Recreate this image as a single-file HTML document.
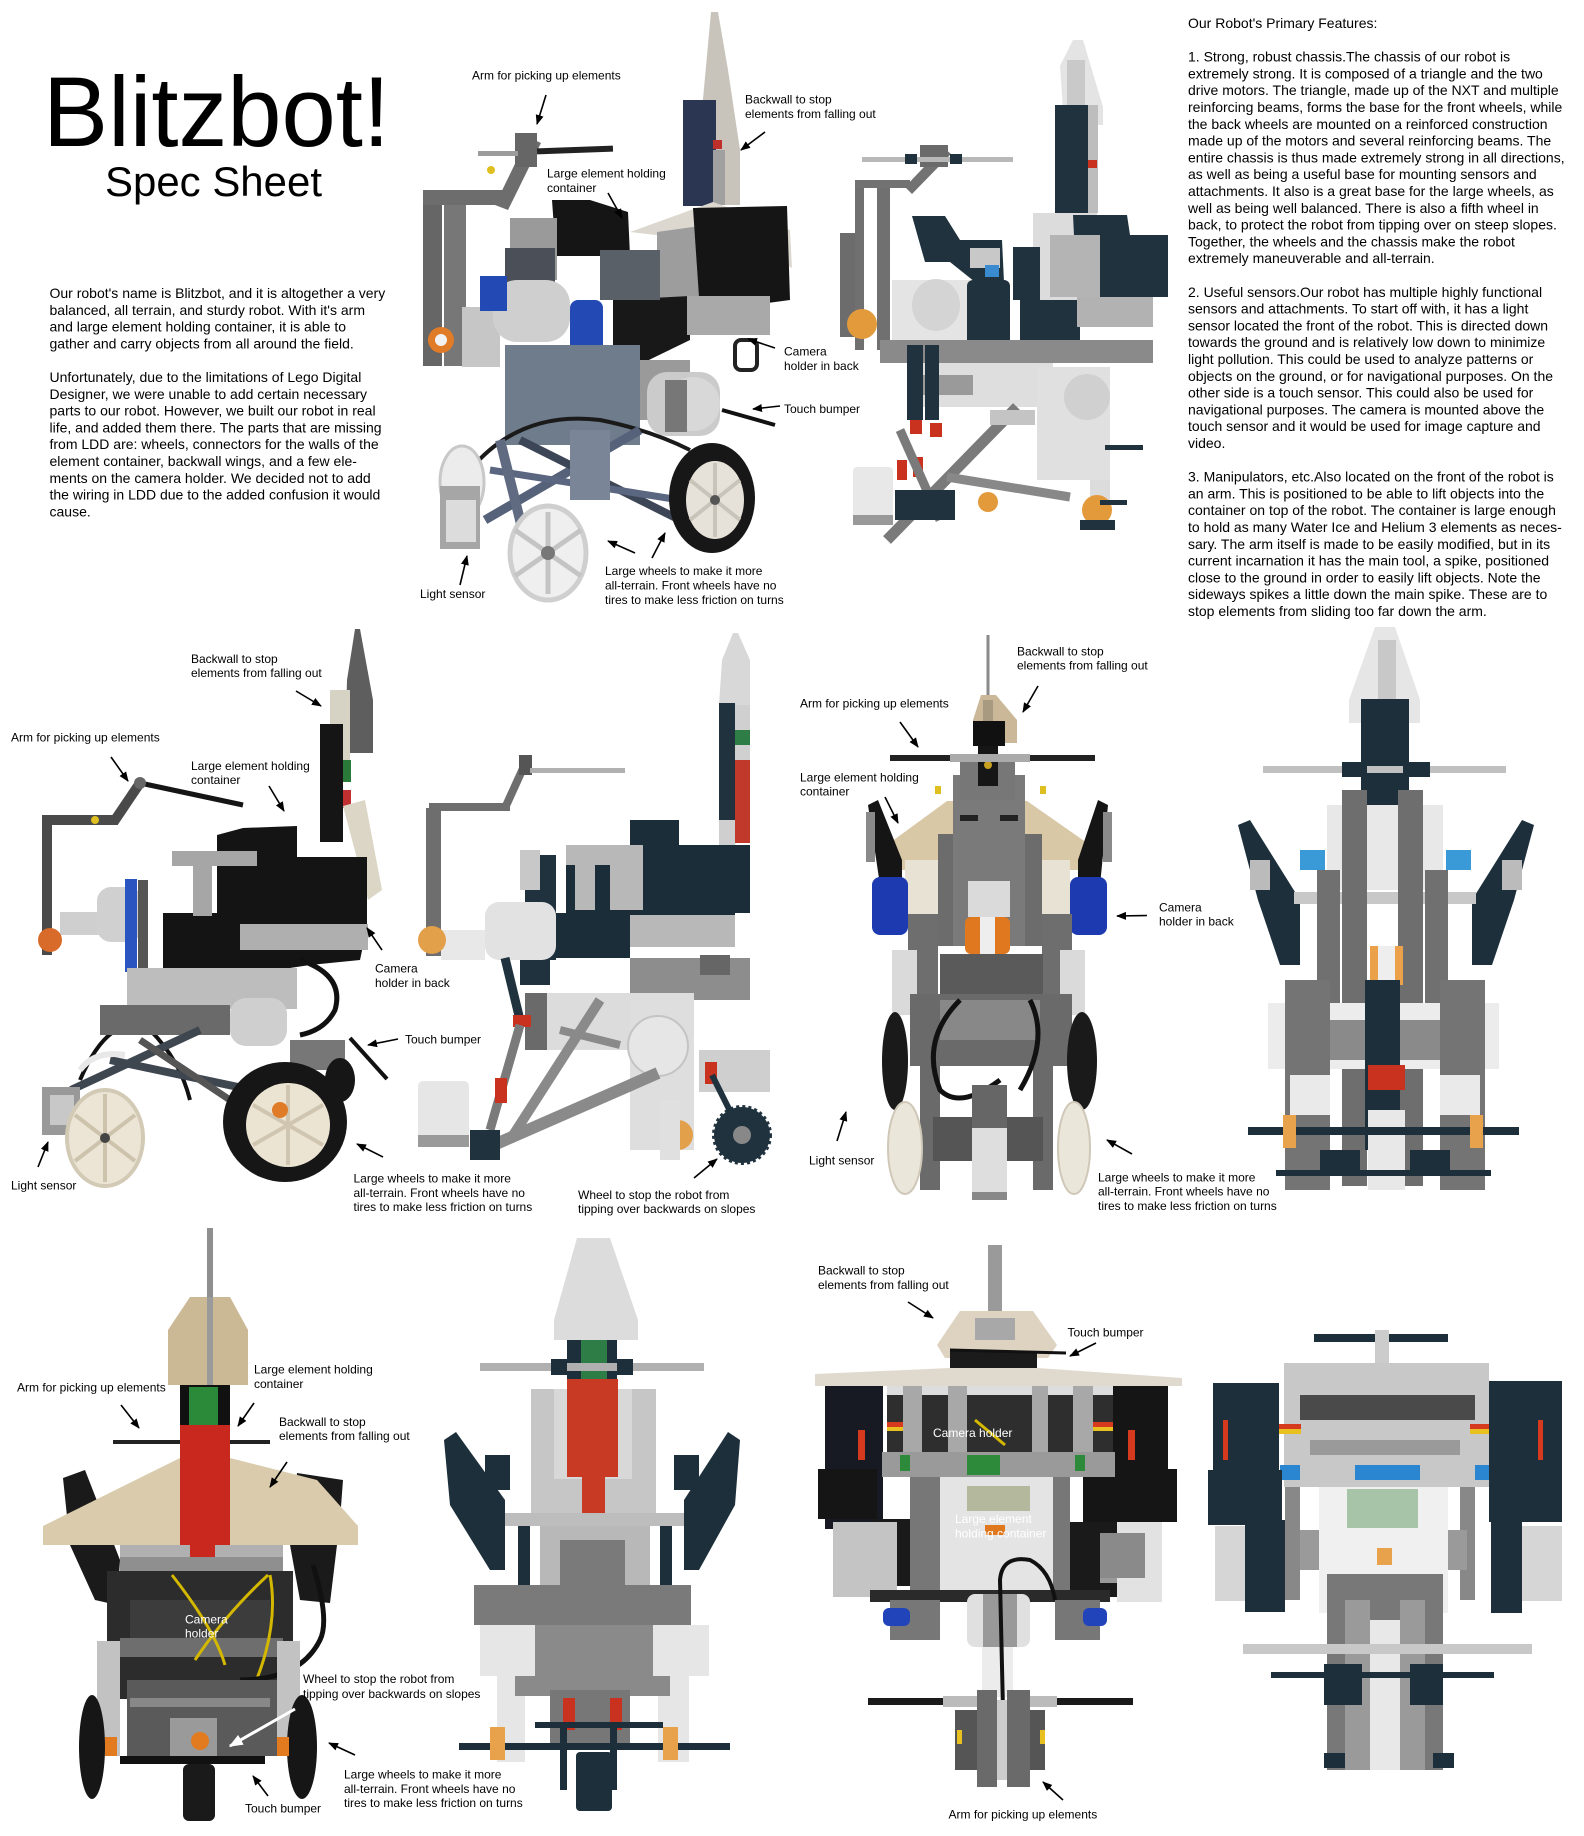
<!DOCTYPE html>
<html><head><meta charset="utf-8"><style>
html,body{margin:0;padding:0;background:#fff;}
svg{display:block;}
text{font-family:"Liberation Sans",Arial,sans-serif;fill:#000;}
.l{font-size:12px;}
.p{font-size:14px;}
.w{fill:#fff;}
.ar{stroke:#000;stroke-width:1.6;fill:none;marker-end:url(#ah);}
</style></head><body>
<svg width="1584" height="1836" viewBox="0 0 1584 1836" xmlns="http://www.w3.org/2000/svg">
<defs>
<marker id="ah" viewBox="0 0 10 10" refX="9" refY="5" markerWidth="10" markerHeight="10" orient="auto" markerUnits="userSpaceOnUse"><path d="M0,1 L10,5 L0,9 z" fill="#000"/></marker>
<marker id="ahw" viewBox="0 0 10 10" refX="9" refY="5" markerWidth="14" markerHeight="14" orient="auto" markerUnits="userSpaceOnUse"><path d="M0,1 L10,5 L0,9 z" fill="#fff"/></marker>
</defs>
<rect width="1584" height="1836" fill="#fff"/>

<!-- ===== Title ===== -->
<text x="43" y="146" font-size="99" textLength="347" lengthAdjust="spacingAndGlyphs">Blitzbot!</text>
<text x="105" y="196" font-size="42" textLength="217" lengthAdjust="spacingAndGlyphs">Spec Sheet</text>

<!-- ===== Left paragraph ===== -->
<g>
<text class="p" x="49.5" y="298">Our robot's name is Blitzbot, and it is altogether a very</text>
<text class="p" x="49.5" y="314.8">balanced, all terrain, and sturdy robot. With it's arm</text>
<text class="p" x="49.5" y="331.6">and large element holding container, it is able to</text>
<text class="p" x="49.5" y="348.4">gather and carry objects from all around the field.</text>
<text class="p" x="49.5" y="382">Unfortunately, due to the limitations of Lego Digital</text>
<text class="p" x="49.5" y="398.8">Designer, we were unable to add certain necessary</text>
<text class="p" x="49.5" y="415.6">parts to our robot. However, we built our robot in real</text>
<text class="p" x="49.5" y="432.4">life, and added them there. The parts that are missing</text>
<text class="p" x="49.5" y="449.2">from LDD are: wheels, connectors for the walls of the</text>
<text class="p" x="49.5" y="466">element container, backwall wings, and a few ele-</text>
<text class="p" x="49.5" y="482.8">ments on the camera holder. We decided not to add</text>
<text class="p" x="49.5" y="499.6">the wiring in LDD due to the added confusion it would</text>
<text class="p" x="49.5" y="516.4">cause.</text>
</g>

<!-- ===== Right column ===== -->
<g>
<text class="p" x="1188" y="28">Our Robot's Primary Features:</text>
<text class="p" x="1188" y="61.6">1. Strong, robust chassis.The chassis of our robot is</text>
<text class="p" x="1188" y="78.4">extremely strong. It is composed of a triangle and the two</text>
<text class="p" x="1188" y="95.2">drive motors. The triangle, made up of the NXT and multiple</text>
<text class="p" x="1188" y="112">reinforcing beams, forms the base for the front wheels, while</text>
<text class="p" x="1188" y="128.8">the back wheels are mounted on a reinforced construction</text>
<text class="p" x="1188" y="145.6">made up of the motors and several reinforcing beams. The</text>
<text class="p" x="1188" y="162.4">entire chassis is thus made extremely strong in all directions,</text>
<text class="p" x="1188" y="179.2">as well as being a useful base for mounting sensors and</text>
<text class="p" x="1188" y="196">attachments. It also is a great base for the large wheels, as</text>
<text class="p" x="1188" y="212.8">well as being well balanced. There is also a fifth wheel in</text>
<text class="p" x="1188" y="229.6">back, to protect the robot from tipping over on steep slopes.</text>
<text class="p" x="1188" y="246.4">Together, the wheels and the chassis make the robot</text>
<text class="p" x="1188" y="263.2">extremely maneuverable and all-terrain.</text>
<text class="p" x="1188" y="296.8">2. Useful sensors.Our robot has multiple highly functional</text>
<text class="p" x="1188" y="313.6">sensors and attachments. To start off with, it has a light</text>
<text class="p" x="1188" y="330.4">sensor located the front of the robot. This is directed down</text>
<text class="p" x="1188" y="347.2">towards the ground and is relatively low down to minimize</text>
<text class="p" x="1188" y="364">light pollution. This could be used to analyze patterns or</text>
<text class="p" x="1188" y="380.8">objects on the ground, or for navigational purposes. On the</text>
<text class="p" x="1188" y="397.6">other side is a touch sensor. This could also be used for</text>
<text class="p" x="1188" y="414.4">navigational purposes. The camera is mounted above the</text>
<text class="p" x="1188" y="431.2">touch sensor and it would be used for image capture and</text>
<text class="p" x="1188" y="448">video.</text>
<text class="p" x="1188" y="481.6">3. Manipulators, etc.Also located on the front of the robot is</text>
<text class="p" x="1188" y="498.4">an arm. This is positioned to be able to lift objects into the</text>
<text class="p" x="1188" y="515.2">container on top of the robot. The container is large enough</text>
<text class="p" x="1188" y="532">to hold as many Water Ice and Helium 3 elements as neces-</text>
<text class="p" x="1188" y="548.8">sary. The arm itself is made to be easily modified, but in its</text>
<text class="p" x="1188" y="565.6">current incarnation it has the main tool, a spike, positioned</text>
<text class="p" x="1188" y="582.4">close to the ground in order to easily lift objects. Note the</text>
<text class="p" x="1188" y="599.2">sideways spikes a little down the main spike. These are to</text>
<text class="p" x="1188" y="616">stop elements from sliding too far down the arm.</text>
</g>

<!-- ===== Robot A (photo, top) ===== -->
<g>
 <polygon points="711,12 718,12 728,70 740,150 740,205 706,205 702,110" fill="#c8c4bb"/>
 <rect x="683" y="100" width="33" height="106" fill="#2b3752"/>
 <rect x="713" y="150" width="12" height="55" fill="#a0a0a0"/>
 <rect x="713" y="140" width="9" height="9" fill="#c0302a"/>
 <polygon points="630,232 713,202 790,230 792,268 760,252 700,240" fill="#dcd8cf"/>
 <rect x="423" y="195" width="19" height="171" fill="#666"/>
 <rect x="444" y="200" width="22" height="166" fill="#777"/>
 <rect x="423" y="190" width="82" height="15" fill="#6d6d6d"/>
 <polygon points="495,205 528,137 541,143 508,210" fill="#6d6d6d"/>
 <rect x="515" y="133" width="22" height="34" fill="#666"/>
 <rect x="478" y="151" width="40" height="5" fill="#9c9c9c"/>
 <rect x="537" y="147" width="76" height="6" fill="#222" transform="rotate(-2 575 150)"/>
 <circle cx="491" cy="170" r="4" fill="#e0c020"/>
 <polygon points="552,200 590,200 628,212 630,256 556,256" fill="#151515"/>
 <rect x="510" y="218" width="47" height="62" fill="#9a9a9a"/>
 <rect x="505" y="248" width="50" height="52" fill="#4a4f58"/>
 <polygon points="657,232 700,226 702,300 657,300" fill="#9d9d9d"/>
 <polygon points="693,208 787,206 790,300 700,312" fill="#151515"/>
 <polygon points="613,300 690,296 690,340 620,374 613,374" fill="#181818"/>
 <rect x="687" y="296" width="83" height="39" fill="#a9a9a9"/>
 <rect x="600" y="250" width="60" height="50" fill="#5a6068"/>
 <rect x="462" y="307" width="38" height="60" fill="#c6c6c6"/>
 <rect x="493" y="280" width="77" height="62" rx="24" fill="#cfcfcf"/>
 <rect x="480" y="276" width="27" height="35" fill="#2349b4"/>
 <rect x="570" y="300" width="33" height="62" rx="8" fill="#2349b4"/>
 <circle cx="441" cy="340" r="13" fill="#e07b28"/>
 <circle cx="441" cy="340" r="6" fill="#f2f2f2"/>
 <rect x="505" y="345" width="135" height="100" fill="#6f7c8c"/>
 <rect x="640" y="360" width="50" height="60" fill="#9a9a9a"/>
 <rect x="647" y="372" width="73" height="64" rx="20" fill="#cbcbcb"/>
 <circle cx="693" cy="404" r="27" fill="#d8d8d8"/>
 <rect x="665" y="380" width="22" height="52" fill="#777"/>
 <line x1="722" y1="410" x2="775" y2="425" stroke="#111" stroke-width="4"/>
 <rect x="735" y="340" width="22" height="30" rx="6" fill="none" stroke="#222" stroke-width="4"/>
 <path d="M470,470 Q520,410 600,420 Q650,430 690,450" stroke="#1a1a1a" stroke-width="4" fill="none"/>
 <line x1="485" y1="520" x2="640" y2="430" stroke="#56627a" stroke-width="9"/>
 <line x1="520" y1="440" x2="700" y2="530" stroke="#3d4656" stroke-width="8"/>
 <line x1="490" y1="470" x2="680" y2="500" stroke="#5b6780" stroke-width="7"/>
 <line x1="500" y1="440" x2="530" y2="560" stroke="#606a80" stroke-width="10"/>
 <rect x="570" y="430" width="40" height="70" fill="#7a8698"/>
 <ellipse cx="462" cy="482" rx="22" ry="36" fill="#ececec" stroke="#c8c8c8" stroke-width="3"/>
 <rect x="440" y="486" width="40" height="63" fill="#a6a6a6"/>
 <rect x="446" y="500" width="30" height="42" fill="#dcdcdc"/>
 <ellipse cx="548" cy="553" rx="38" ry="47" fill="#efefef" stroke="#cfcfcf" stroke-width="5"/>
 <g stroke="#c4c4c4" stroke-width="5"><line x1="548" y1="512" x2="548" y2="594"/><line x1="515" y1="530" x2="581" y2="576"/><line x1="515" y1="576" x2="581" y2="530"/></g>
 <circle cx="548" cy="553" r="7" fill="#777"/>
 <ellipse cx="712" cy="498" rx="43" ry="55" fill="#171717"/>
 <ellipse cx="715" cy="500" rx="29" ry="39" fill="#e6e2da"/>
 <g stroke="#c9c4ba" stroke-width="4"><line x1="715" y1="463" x2="715" y2="537"/><line x1="690" y1="480" x2="740" y2="520"/><line x1="690" y1="520" x2="740" y2="480"/></g>
 <circle cx="715" cy="500" r="5" fill="#555"/>
</g>

<!-- ===== Robot B (LDD, top) ===== -->
<g>
 <polygon points="1073,40 1083,40 1103,107 1103,125 1064,125 1060,66" fill="#e4e4e4"/>
 <rect x="1067" y="60" width="18" height="65" fill="#c9c9c9"/>
 <rect x="1055" y="105" width="33" height="108" fill="#1f323e"/>
 <rect x="1088" y="105" width="10" height="108" fill="#bdbdbd"/>
 <rect x="1088" y="160" width="9" height="8" fill="#c8321e"/>
 <rect x="1033" y="213" width="64" height="87" fill="#dcdcdc"/>
 <polygon points="912,216 945,216 960,240 1002,240 1004,282 975,282 950,262 925,262" fill="#1f323e"/>
 <rect x="1013" y="247" width="27" height="53" fill="#1f323e"/>
 <polygon points="1073,215 1127,215 1130,235 1168,235 1168,297 1077,297" fill="#1f323e"/>
 <rect x="1050" y="235" width="50" height="62" fill="#b4b4b4"/>
 <rect x="1020" y="300" width="60" height="42" fill="#1f323e"/>
 <rect x="1077" y="297" width="76" height="30" fill="#b2b2b2"/>
 <rect x="970" y="248" width="30" height="20" fill="#c8c8c8"/>
 <rect x="985" y="265" width="14" height="12" fill="#3a8ad0"/>
 <rect x="840" y="233" width="17" height="104" fill="#6c6c6c"/>
 <rect x="855" y="180" width="9" height="170" fill="#707070"/>
 <rect x="877" y="180" width="13" height="170" fill="#707070"/>
 <rect x="855" y="180" width="55" height="8" fill="#727272"/>
 <polygon points="905,187 943,147 951,154 912,194" fill="#727272"/>
 <rect x="920" y="145" width="28" height="22" fill="#6a6a6a"/>
 <rect x="862" y="157" width="151" height="5" fill="#b8b8b8"/>
 <rect x="905" y="154" width="12" height="10" fill="#1f323e"/>
 <rect x="950" y="154" width="12" height="10" fill="#1f323e"/>
 <rect x="892" y="280" width="78" height="73" fill="#e4e4e4"/>
 <ellipse cx="936" cy="305" rx="24" ry="26" fill="#d4d4d4"/>
 <circle cx="862" cy="324" r="15" fill="#e39a3b"/>
 <rect x="967" y="280" width="43" height="67" rx="6" fill="#1f323e"/>
 <rect x="880" y="340" width="273" height="23" fill="#8a8a8a"/>
 <rect x="913" y="363" width="140" height="44" fill="#dedede"/>
 <rect x="913" y="375" width="60" height="20" fill="#9a9a9a"/>
 <rect x="1037" y="367" width="73" height="113" fill="#e0e0e0"/>
 <circle cx="1087" cy="397" r="23" fill="#d0d0d0"/>
 <rect x="907" y="345" width="16" height="75" fill="#1f323e"/>
 <rect x="925" y="345" width="14" height="75" fill="#1f323e"/>
 <rect x="910" y="420" width="12" height="14" fill="#c8321e"/>
 <rect x="930" y="423" width="12" height="14" fill="#c8321e"/>
 <rect x="897" y="460" width="10" height="20" fill="#c8321e"/>
 <rect x="913" y="457" width="10" height="20" fill="#c8321e"/>
 <line x1="887" y1="540" x2="1017" y2="407" stroke="#7a7a7a" stroke-width="11"/>
 <line x1="947" y1="477" x2="1070" y2="497" stroke="#888" stroke-width="9"/>
 <line x1="900" y1="430" x2="940" y2="520" stroke="#7a7a7a" stroke-width="9"/>
 <rect x="990" y="410" width="45" height="15" fill="#c4c4c4"/>
 <rect x="1090" y="480" width="20" height="30" fill="#dcdcdc"/>
 <rect x="853" y="467" width="40" height="56" rx="4" fill="#e8e8e8"/>
 <rect x="853" y="515" width="40" height="10" fill="#999"/>
 <rect x="895" y="490" width="60" height="30" fill="#1f323e"/>
 <circle cx="988" cy="502" r="10" fill="#e39a3b"/>
 <circle cx="1097" cy="510" r="15" fill="#e39a3b"/>
 <rect x="1105" y="445" width="38" height="5" fill="#1f323e"/>
 <rect x="1100" y="500" width="27" height="5" fill="#1f323e"/>
 <rect x="1080" y="520" width="35" height="10" fill="#1f323e"/>
</g>

<!-- ===== Robot C (photo, side) ===== -->
<g>
 <polygon points="355,629 360,629 373,700 373,753 345,753 347,680" fill="#5e5e5e"/>
 <rect x="330" y="690" width="20" height="86" fill="#d6d2c4"/>
 <rect x="320" y="724" width="23" height="118" fill="#151515"/>
 <rect x="343" y="760" width="8" height="22" fill="#2a7a3a"/>
 <rect x="343" y="790" width="8" height="18" fill="#c03030"/>
 <polygon points="343,806 365,800 382,890 368,900" fill="#dcd6c6"/>
 <polygon points="217,835 243,828 297,826 297,857 367,857 367,927 360,960 310,965 243,975 163,975 163,913 217,913" fill="#141414"/>
 <rect x="172" y="851" width="85" height="15" fill="#a6a6a6"/>
 <rect x="193" y="866" width="19" height="50" fill="#a6a6a6"/>
 <rect x="240" y="924" width="128" height="26" fill="#afafaf"/>
 <polyline points="47,955 47,820 115,820 140,783" stroke="#4a4a4a" stroke-width="10" fill="none"/>
 <line x1="140" y1="783" x2="243" y2="805" stroke="#151515" stroke-width="5"/>
 <circle cx="140" cy="783" r="6" fill="#666"/>
 <circle cx="95" cy="820" r="4" fill="#e0c020"/>
 <rect x="60" y="912" width="60" height="23" fill="#cfcfcf"/>
 <rect x="97" y="887" width="45" height="55" rx="14" fill="#d0d0d0"/>
 <rect x="125" y="879" width="12" height="93" fill="#2a55c0"/>
 <rect x="138" y="880" width="10" height="95" fill="#555"/>
 <circle cx="50" cy="940" r="12" fill="#d86a2a"/>
 <rect x="127" y="968" width="170" height="41" fill="#bdbdbd"/>
 <rect x="230" y="998" width="57" height="48" rx="16" fill="#cfcfcf"/>
 <path d="M300,960 Q345,975 335,1010 Q325,1030 300,1035" stroke="#111" stroke-width="5" fill="none"/>
 <path d="M80,1080 Q110,1010 150,1030 Q180,1060 190,1100" stroke="#111" stroke-width="4" fill="none"/>
 <rect x="100" y="1005" width="130" height="30" fill="#6a6a6a"/>
 <line x1="71" y1="1090" x2="200" y2="1030" stroke="#3e4650" stroke-width="8"/>
 <line x1="110" y1="1060" x2="300" y2="1100" stroke="#3e4650" stroke-width="8"/>
 <line x1="140" y1="1040" x2="230" y2="1100" stroke="#555" stroke-width="7"/>
 <rect x="290" y="1040" width="55" height="30" fill="#777"/>
 <line x1="350" y1="1038" x2="387" y2="1079" stroke="#111" stroke-width="4"/>
 <ellipse cx="340" cy="1080" rx="15" ry="22" fill="#161616"/>
 <path d="M80,1070 Q95,1050 125,1055" stroke="#e8e8e8" stroke-width="6" fill="none"/>
 <rect x="42" y="1087" width="38" height="48" fill="#999"/>
 <rect x="50" y="1095" width="24" height="30" fill="#c8c8c8"/>
 <ellipse cx="105" cy="1138" rx="38" ry="48" fill="#ece5d5" stroke="#d3cab5" stroke-width="4"/>
 <g stroke="#cdc3ad" stroke-width="4"><line x1="105" y1="1094" x2="105" y2="1182"/><line x1="75" y1="1115" x2="135" y2="1161"/><line x1="75" y1="1161" x2="135" y2="1115"/></g>
 <circle cx="105" cy="1138" r="5" fill="#444"/>
 <ellipse cx="285" cy="1122" rx="62" ry="60" fill="#161616"/>
 <ellipse cx="288" cy="1125" rx="42" ry="42" fill="#ece4d2"/>
 <g stroke="#cfc5b0" stroke-width="4"><line x1="288" y1="1085" x2="288" y2="1165"/><line x1="253" y1="1105" x2="323" y2="1145"/><line x1="253" y1="1145" x2="323" y2="1105"/></g>
 <circle cx="280" cy="1110" r="8" fill="#e07b28"/>
</g>

<!-- ===== Robot D (LDD side) ===== -->
<g>
 <polygon points="733,633 738,633 750,660 750,705 719,705 722,660" fill="#d8d8d8"/>
 <rect x="719" y="703" width="16" height="117" fill="#1f323e"/>
 <rect x="735" y="705" width="15" height="25" fill="#d0d0d0"/>
 <rect x="735" y="730" width="15" height="15" fill="#2e7d46"/>
 <rect x="735" y="745" width="15" height="15" fill="#d0d0d0"/>
 <rect x="735" y="760" width="15" height="83" fill="#c0392b"/>
 <rect x="719" y="820" width="16" height="25" fill="#cfcfcf"/>
 <polygon points="630,820 679,820 679,845 750,845 750,913 735,913 735,947 630,947 630,958 556,958 556,913 566,913 566,847 630,847" fill="#1b2d38"/>
 <rect x="566" y="845" width="77" height="20" fill="#b8b8b8"/>
 <rect x="575" y="865" width="20" height="45" fill="#b8b8b8"/>
 <rect x="610" y="865" width="33" height="45" fill="#b8b8b8"/>
 <rect x="630" y="915" width="105" height="32" fill="#b8b8b8"/>
 <rect x="525" y="855" width="31" height="105" fill="#1f323e"/>
 <rect x="520" y="850" width="20" height="40" fill="#c8c8c8"/>
 <rect x="426" y="808" width="15" height="148" fill="#6e6e6e"/>
 <rect x="429" y="803" width="81" height="8" fill="#6e6e6e"/>
 <line x1="505" y1="808" x2="525" y2="764" stroke="#6e6e6e" stroke-width="8"/>
 <rect x="519" y="755" width="13" height="20" fill="#555"/>
 <rect x="530" y="768" width="95" height="5" fill="#b0b0b0"/>
 <rect x="441" y="930" width="44" height="30" fill="#e8e8e8"/>
 <rect x="485" y="902" width="71" height="58" rx="14" fill="#e2e2e2"/>
 <circle cx="432" cy="940" r="14" fill="#e3a04a"/>
 <rect x="630" y="958" width="120" height="42" fill="#8d8d8d"/>
 <rect x="700" y="955" width="30" height="20" fill="#666"/>
 <rect x="520" y="960" width="30" height="25" fill="#1f323e"/>
 <rect x="525" y="993" width="169" height="57" fill="#dcdcdc"/>
 <rect x="525" y="993" width="22" height="57" fill="#6a6a6a"/>
 <rect x="630" y="1000" width="64" height="150" fill="#dedede"/>
 <circle cx="658" cy="1046" r="30" fill="#e6e6e6" stroke="#c4c4c4" stroke-width="2"/>
 <line x1="505" y1="958" x2="520" y2="1020" stroke="#1f323e" stroke-width="9"/>
 <rect x="513" y="1015" width="18" height="12" fill="#c8321e"/>
 <line x1="520" y1="1025" x2="490" y2="1130" stroke="#7a7a7a" stroke-width="9"/>
 <line x1="480" y1="1151" x2="658" y2="1073" stroke="#8a8a8a" stroke-width="12"/>
 <line x1="510" y1="1140" x2="600" y2="1000" stroke="#8a8a8a" stroke-width="10"/>
 <line x1="560" y1="1030" x2="620" y2="1045" stroke="#8a8a8a" stroke-width="8"/>
 <rect x="495" y="1078" width="12" height="25" fill="#c8321e"/>
 <rect x="418" y="1081" width="51" height="66" rx="5" fill="#e6e6e6"/>
 <rect x="418" y="1135" width="51" height="12" fill="#9a9a9a"/>
 <rect x="470" y="1130" width="30" height="30" fill="#1f323e"/>
 <rect x="699" y="1050" width="71" height="42" fill="#cfcfcf"/>
 <rect x="705" y="1062" width="12" height="22" fill="#c8321e"/>
 <line x1="712" y1="1075" x2="742" y2="1135" stroke="#1f323e" stroke-width="6"/>
 <circle cx="742" cy="1135" r="28" fill="#1f323e" stroke="#1f323e" stroke-width="4" stroke-dasharray="3 3"/>
 <circle cx="742" cy="1135" r="9" fill="#888"/>
 <circle cx="678" cy="1135" r="15" fill="#e3a04a"/>
 <rect x="660" y="1100" width="20" height="60" fill="#e0e0e0"/>
</g>

<!-- ===== Robot E (photo front) ===== -->
<g>
 <line x1="988" y1="635" x2="988" y2="697" stroke="#8a8a8a" stroke-width="3"/>
 <polygon points="981,695 996,695 1017,720 1017,743 973,743 973,720" fill="#cbb898"/>
 <rect x="983" y="700" width="10" height="40" fill="#a89a80"/>
 <polygon points="887,845 947,801 1027,801 1090,845 1090,870 887,870" fill="#d8c8a6"/>
 <rect x="905" y="860" width="165" height="55" fill="#e8e2d5"/>
 <polygon points="868,805 878,800 902,860 902,885 880,885" fill="#151515"/>
 <polygon points="1108,805 1098,800 1078,860 1078,885 1100,885" fill="#151515"/>
 <rect x="866" y="812" width="9" height="50" fill="#8a8a8a"/>
 <rect x="1103" y="812" width="9" height="50" fill="#8a8a8a"/>
 <rect x="938" y="834" width="104" height="112" fill="#6c6c6c"/>
 <rect x="953" y="775" width="72" height="171" fill="#7a7a7a"/>
 <rect x="960" y="760" width="55" height="40" fill="#777"/>
 <rect x="973" y="721" width="32" height="25" fill="#111"/>
 <rect x="978" y="746" width="20" height="40" fill="#161616"/>
 <circle cx="988" cy="765" r="4" fill="#c8a020"/>
 <rect x="890" y="755" width="205" height="6" fill="#222"/>
 <rect x="950" y="754" width="80" height="8" fill="#aaa"/>
 <rect x="935" y="786" width="6" height="8" fill="#e0c020"/>
 <rect x="1040" y="786" width="6" height="8" fill="#e0c020"/>
 <rect x="960" y="815" width="18" height="6" fill="#222"/>
 <rect x="1000" y="815" width="18" height="6" fill="#222"/>
 <rect x="968" y="881" width="42" height="36" fill="#dadada"/>
 <rect x="965" y="917" width="45" height="37" rx="6" fill="#e07820"/>
 <rect x="980" y="917" width="15" height="37" fill="#eee"/>
 <rect x="872" y="877" width="36" height="58" rx="8" fill="#1d3ab0"/>
 <rect x="1070" y="877" width="37" height="58" rx="8" fill="#1d3ab0"/>
 <rect x="908" y="914" width="30" height="80" fill="#6e6e6e"/>
 <rect x="1042" y="914" width="30" height="80" fill="#6e6e6e"/>
 <rect x="940" y="954" width="103" height="40" fill="#5a5a5a"/>
 <rect x="892" y="950" width="25" height="65" fill="#dadada"/>
 <rect x="1060" y="950" width="25" height="65" fill="#dadada"/>
 <rect x="910" y="994" width="162" height="72" fill="#6a6a6a"/>
 <rect x="940" y="1000" width="100" height="40" fill="#888"/>
 <ellipse cx="895" cy="1061" rx="13" ry="49" fill="#1a1a1a"/>
 <ellipse cx="1082" cy="1061" rx="15" ry="49" fill="#1a1a1a"/>
 <rect x="920" y="1041" width="20" height="149" fill="#6a6a6a"/>
 <rect x="1033" y="1041" width="20" height="149" fill="#6a6a6a"/>
 <rect x="933" y="1117" width="110" height="44" fill="#555"/>
 <path d="M960,1000 Q920,1040 940,1090 Q960,1110 1000,1080" stroke="#111" stroke-width="5" fill="none"/>
 <path d="M1030,1000 Q1050,1040 1020,1090" stroke="#111" stroke-width="5" fill="none"/>
 <ellipse cx="905" cy="1148" rx="17" ry="46" fill="#ebe6da" stroke="#cfc8b8" stroke-width="2"/>
 <ellipse cx="1074" cy="1148" rx="16" ry="46" fill="#ebe6da" stroke="#cfc8b8" stroke-width="2"/>
 <rect x="972" y="1085" width="35" height="115" fill="#dedede"/>
 <rect x="972" y="1085" width="35" height="43" fill="#666"/>
 <rect x="972" y="1192" width="35" height="8" fill="#888"/>
</g>

<!-- ===== Robot F (LDD front) ===== -->
<g>
 <polygon points="1375,627 1395,627 1420,700 1420,723 1349,723 1349,700" fill="#e6e6e6"/>
 <rect x="1378" y="640" width="18" height="83" fill="#c8c8c8"/>
 <rect x="1361" y="699" width="48" height="106" fill="#1c2f3a"/>
 <rect x="1263" y="766" width="243" height="7" fill="#c0c0c0"/>
 <rect x="1342" y="762" width="25" height="15" fill="#1c2f3a"/>
 <rect x="1403" y="762" width="27" height="15" fill="#1c2f3a"/>
 <rect x="1327" y="805" width="116" height="85" fill="#e8e8e8"/>
 <polygon points="1238,825 1250,820 1300,900 1300,965 1280,965 1258,900" fill="#1c2f3a"/>
 <polygon points="1534,825 1522,820 1472,900 1472,965 1492,965 1514,900" fill="#1c2f3a"/>
 <rect x="1250" y="860" width="20" height="30" fill="#bbb"/>
 <rect x="1502" y="860" width="20" height="30" fill="#bbb"/>
 <rect x="1294" y="892" width="182" height="12" fill="#c8c8c8"/>
 <rect x="1300" y="850" width="25" height="20" fill="#3a9ad8"/>
 <rect x="1446" y="850" width="25" height="20" fill="#3a9ad8"/>
 <rect x="1342" y="790" width="25" height="396" fill="#6e6e6e"/>
 <rect x="1398" y="790" width="25" height="396" fill="#6e6e6e"/>
 <rect x="1317" y="870" width="23" height="190" fill="#707070"/>
 <rect x="1425" y="870" width="23" height="190" fill="#707070"/>
 <rect x="1370" y="946" width="33" height="39" fill="#eba04a"/>
 <rect x="1378" y="946" width="17" height="39" fill="#eee"/>
 <rect x="1268" y="1003" width="231" height="66" fill="#ececec"/>
 <rect x="1285" y="980" width="45" height="210" fill="#747474"/>
 <rect x="1440" y="980" width="45" height="210" fill="#747474"/>
 <rect x="1330" y="1020" width="110" height="40" fill="#8a8a8a"/>
 <rect x="1365" y="980" width="35" height="170" fill="#1c2f3a"/>
 <rect x="1368" y="1065" width="37" height="25" fill="#c8321e"/>
 <rect x="1368" y="1110" width="37" height="80" fill="#e8e8e8"/>
 <rect x="1290" y="1075" width="40" height="40" fill="#eaeaea"/>
 <rect x="1440" y="1075" width="40" height="40" fill="#eaeaea"/>
 <rect x="1248" y="1127" width="271" height="8" fill="#1c2f3a"/>
 <rect x="1276" y="1170" width="215" height="6" fill="#1c2f3a"/>
 <rect x="1283" y="1115" width="13" height="33" fill="#e9a24c"/>
 <rect x="1470" y="1115" width="13" height="33" fill="#e9a24c"/>
 <rect x="1320" y="1150" width="40" height="22" fill="#1c2f3a"/>
 <rect x="1410" y="1150" width="40" height="22" fill="#1c2f3a"/>
</g>

<!-- ===== Robot G (photo front, bottom) ===== -->
<g>
 <rect x="207" y="1228" width="6" height="161" fill="#8f8f8f"/>
 <polygon points="190,1297 230,1297 248,1330 248,1385 168,1385 168,1330" fill="#cbb995"/>
 <rect x="207" y="1297" width="6" height="88" fill="#9a9a9a"/>
 <rect x="180" y="1385" width="50" height="40" fill="#111"/>
 <rect x="189" y="1387" width="29" height="38" fill="#2a8a3a"/>
 <rect x="113" y="1440" width="157" height="4" fill="#222"/>
 <polygon points="63,1478 85,1470 120,1560 117,1605 95,1600 70,1545" fill="#1a1a1a"/>
 <polygon points="297,1473 343,1480 340,1520 330,1603 300,1600 290,1545" fill="#1a1a1a"/>
 <polygon points="43,1526 180,1458 230,1458 317,1480 358,1526 358,1545 43,1545" fill="#d9cbab"/>
 <rect x="180" y="1425" width="50" height="121" fill="#c8281e"/>
 <rect x="190" y="1546" width="25" height="15" fill="#c8281e"/>
 <rect x="120" y="1545" width="70" height="12" fill="#b0b0b0"/>
 <rect x="215" y="1545" width="68" height="12" fill="#b0b0b0"/>
 <rect x="120" y="1557" width="163" height="14" fill="#8f8f8f"/>
 <rect x="107" y="1571" width="186" height="128" fill="#2c2c2c"/>
 <rect x="130" y="1600" width="140" height="38" fill="#3c3c3c"/>
 <rect x="120" y="1638" width="163" height="19" fill="#6e6e6e"/>
 <path d="M172,1575 Q215,1630 225,1665 M268,1575 Q225,1615 195,1660 M270,1575 Q280,1630 250,1695" stroke="#d4b800" stroke-width="3" fill="none"/>
 <path d="M313,1565 Q330,1620 320,1640 Q300,1680 240,1680" stroke="#111" stroke-width="5" fill="none"/>
 <rect x="97" y="1641" width="23" height="115" fill="#c2c2c2"/>
 <rect x="277" y="1641" width="23" height="115" fill="#c2c2c2"/>
 <rect x="127" y="1680" width="150" height="76" fill="#5a5a5a"/>
 <rect x="130" y="1698" width="140" height="9" fill="#888"/>
 <rect x="170" y="1718" width="47" height="46" fill="#9a9a9a"/>
 <ellipse cx="92" cy="1747" rx="13" ry="52" fill="#161616"/>
 <ellipse cx="302" cy="1747" rx="15" ry="52" fill="#161616"/>
 <rect x="105" y="1737" width="12" height="19" fill="#e27a20"/>
 <rect x="277" y="1737" width="12" height="19" fill="#e27a20"/>
 <rect x="120" y="1756" width="145" height="8" fill="#111"/>
 <rect x="183" y="1764" width="32" height="57" rx="6" fill="#1a1a1a"/>
 <circle cx="200" cy="1741" r="9" fill="#e27a20"/>
</g>

<!-- ===== Robot H (LDD front, bottom) ===== -->
<g>
 <polygon points="577,1238 610,1238 638,1320 638,1340 554,1340 554,1320" fill="#dcdcdc"/>
 <rect x="567" y="1340" width="50" height="39" fill="#1c2f3a"/>
 <rect x="581" y="1340" width="26" height="39" fill="#2e7d46"/>
 <rect x="480" y="1363" width="224" height="8" fill="#b0b0b0"/>
 <rect x="551" y="1359" width="16" height="16" fill="#1c2f3a"/>
 <rect x="617" y="1359" width="16" height="16" fill="#1c2f3a"/>
 <rect x="531" y="1389" width="125" height="130" fill="#c6c6c6"/>
 <rect x="554" y="1389" width="78" height="90" fill="#d8d8d8"/>
 <rect x="567" y="1379" width="51" height="98" fill="#c83a24"/>
 <rect x="582" y="1477" width="23" height="45" fill="#c83a24"/>
 <polygon points="444,1440 456,1432 505,1500 505,1570 490,1570 450,1505" fill="#1c2f3a"/>
 <polygon points="740,1440 728,1432 684,1500 684,1570 699,1570 735,1505" fill="#1c2f3a"/>
 <rect x="485" y="1455" width="25" height="35" fill="#1c2f3a"/>
 <rect x="674" y="1455" width="25" height="35" fill="#1c2f3a"/>
 <rect x="505" y="1513" width="179" height="13" fill="#bdbdbd"/>
 <rect x="518" y="1526" width="12" height="74" fill="#1c2f3a"/>
 <rect x="660" y="1526" width="12" height="74" fill="#1c2f3a"/>
 <rect x="540" y="1526" width="110" height="60" fill="#b8b8b8"/>
 <rect x="560" y="1540" width="65" height="45" fill="#7a7a7a"/>
 <rect x="474" y="1585" width="217" height="40" fill="#7a7a7a"/>
 <rect x="480" y="1625" width="229" height="51" fill="#e6e6e6"/>
 <rect x="535" y="1625" width="118" height="51" fill="#8a8a8a"/>
 <rect x="497" y="1676" width="28" height="86" fill="#e6e6e6"/>
 <rect x="658" y="1676" width="31" height="86" fill="#e6e6e6"/>
 <rect x="515" y="1676" width="155" height="20" fill="#8a8a8a"/>
 <rect x="550" y="1690" width="80" height="55" fill="#777"/>
 <rect x="563" y="1698" width="12" height="32" fill="#c8321e"/>
 <rect x="610" y="1698" width="12" height="32" fill="#c8321e"/>
 <rect x="535" y="1722" width="128" height="6" fill="#1c2f3a"/>
 <rect x="459" y="1743" width="271" height="7" fill="#1c2f3a"/>
 <rect x="490" y="1727" width="15" height="33" fill="#e9a24c"/>
 <rect x="663" y="1727" width="15" height="33" fill="#e9a24c"/>
 <rect x="560" y="1728" width="7" height="62" fill="#1c2f3a"/>
 <rect x="610" y="1728" width="7" height="62" fill="#1c2f3a"/>
 <rect x="576" y="1752" width="36" height="59" rx="4" fill="#1c2f3a"/>
</g>

<!-- ===== Robot I (photo back/top) ===== -->
<g>
 <rect x="988" y="1245" width="14" height="66" fill="#9a9a9a"/>
 <polygon points="960,1311 1033,1311 1057,1345 1048,1358 945,1358 937,1345" fill="#ddd3c0"/>
 <rect x="975" y="1318" width="40" height="22" fill="#a8a8a8"/>
 <rect x="950" y="1351" width="87" height="39" fill="#1b1b1b"/>
 <line x1="950" y1="1350" x2="1066" y2="1353" stroke="#111" stroke-width="3"/>
 <polygon points="815,1374 950,1368 1037,1368 1182,1378 1182,1386 815,1386" fill="#e0dace"/>
 <rect x="825" y="1386" width="58" height="143" fill="#171a22"/>
 <rect x="818" y="1469" width="59" height="50" fill="#151515"/>
 <rect x="872" y="1519" width="38" height="67" fill="#1a1a1a"/>
 <rect x="833" y="1522" width="64" height="75" fill="#c4c4c4"/>
 <rect x="1108" y="1386" width="60" height="83" fill="#151515"/>
 <rect x="1083" y="1469" width="94" height="53" fill="#151515"/>
 <rect x="1070" y="1522" width="47" height="75" fill="#1a1a1a"/>
 <rect x="1100" y="1533" width="57" height="50" fill="#9a9a9a"/>
 <rect x="1117" y="1522" width="45" height="80" fill="#e2e2e2"/>
 <rect x="1100" y="1533" width="45" height="45" fill="#8a8a8a"/>
 <rect x="858" y="1430" width="7" height="30" fill="#d63a1e"/>
 <rect x="1128" y="1430" width="7" height="30" fill="#d63a1e"/>
 <rect x="887" y="1386" width="226" height="66" fill="#2e2e2e"/>
 <rect x="887" y="1386" width="226" height="9" fill="#ddd"/>
 <rect x="903" y="1386" width="19" height="66" fill="#a8a8a8"/>
 <rect x="948" y="1386" width="19" height="90" fill="#a8a8a8"/>
 <rect x="1032" y="1386" width="16" height="90" fill="#a8a8a8"/>
 <rect x="1073" y="1386" width="20" height="66" fill="#a8a8a8"/>
 <rect x="887" y="1422" width="16" height="5" fill="#d63a1e"/>
 <rect x="887" y="1427" width="16" height="4" fill="#e8c020"/>
 <rect x="1093" y="1422" width="20" height="5" fill="#d63a1e"/>
 <rect x="1093" y="1427" width="20" height="4" fill="#e8c020"/>
 <line x1="975" y1="1420" x2="1005" y2="1445" stroke="#d4b800" stroke-width="3"/>
 <rect x="882" y="1452" width="233" height="25" fill="#9a9a9a"/>
 <rect x="967" y="1455" width="33" height="20" fill="#2c8a3a"/>
 <rect x="900" y="1455" width="10" height="16" fill="#2c8a3a"/>
 <rect x="1075" y="1455" width="10" height="16" fill="#2c8a3a"/>
 <rect x="910" y="1477" width="30" height="120" fill="#777"/>
 <rect x="1053" y="1477" width="17" height="120" fill="#777"/>
 <rect x="940" y="1477" width="113" height="120" fill="#e4e4e4"/>
 <rect x="967" y="1486" width="63" height="25" fill="#b4b89c"/>
 <rect x="985" y="1525" width="20" height="10" fill="#e07820"/>
 <rect x="870" y="1590" width="240" height="12" fill="#2a2a2a"/>
 <rect x="890" y="1600" width="50" height="40" fill="#777"/>
 <rect x="1055" y="1600" width="45" height="40" fill="#777"/>
 <rect x="883" y="1608" width="27" height="18" rx="6" fill="#2244bb"/>
 <rect x="1083" y="1608" width="24" height="18" rx="6" fill="#2244bb"/>
 <rect x="967" y="1594" width="63" height="53" rx="8" fill="#e0e0e0"/>
 <rect x="983" y="1594" width="34" height="53" fill="#999"/>
 <rect x="982" y="1647" width="31" height="50" fill="#ececec"/>
 <path d="M1003,1710 L1000,1580 Q1002,1555 1030,1560 Q1050,1570 1055,1600" stroke="#111" stroke-width="4" fill="none"/>
 <rect x="868" y="1698" width="75" height="7" fill="#1a1a1a"/>
 <rect x="943" y="1696" width="47" height="11" fill="#bbb"/>
 <rect x="1027" y="1696" width="30" height="11" fill="#bbb"/>
 <rect x="1057" y="1698" width="76" height="7" fill="#1a1a1a"/>
 <rect x="955" y="1710" width="22" height="60" fill="#555"/>
 <rect x="1030" y="1710" width="15" height="60" fill="#555"/>
 <rect x="977" y="1690" width="20" height="97" fill="#6a6a6a"/>
 <rect x="1007" y="1690" width="23" height="97" fill="#6a6a6a"/>
 <rect x="997" y="1700" width="10" height="80" fill="#ccc"/>
 <rect x="957" y="1730" width="5" height="14" fill="#e8c020"/>
 <rect x="1040" y="1730" width="5" height="14" fill="#e8c020"/>
</g>

<!-- ===== Robot J (LDD top) ===== -->
<g>
 <rect x="1314" y="1334" width="134" height="8" fill="#1c2f3a"/>
 <rect x="1375" y="1330" width="14" height="35" fill="#ccc"/>
 <rect x="1284" y="1363" width="205" height="124" fill="#c8c8c8"/>
 <rect x="1300" y="1395" width="175" height="25" fill="#4a4a4a"/>
 <rect x="1271" y="1424" width="30" height="5" fill="#d63a1e"/>
 <rect x="1271" y="1429" width="30" height="5" fill="#e8c020"/>
 <rect x="1470" y="1424" width="30" height="5" fill="#d63a1e"/>
 <rect x="1470" y="1429" width="30" height="5" fill="#e8c020"/>
 <rect x="1310" y="1440" width="150" height="15" fill="#9a9a9a"/>
 <rect x="1355" y="1465" width="65" height="15" fill="#2a86d0"/>
 <rect x="1280" y="1465" width="20" height="15" fill="#2a86d0"/>
 <rect x="1475" y="1465" width="15" height="15" fill="#2a86d0"/>
 <rect x="1213" y="1383" width="66" height="137" fill="#1c2f3a"/>
 <rect x="1208" y="1470" width="74" height="55" fill="#1c2f3a"/>
 <rect x="1245" y="1520" width="40" height="92" fill="#1c2f3a"/>
 <rect x="1489" y="1381" width="73" height="141" fill="#1c2f3a"/>
 <rect x="1491" y="1522" width="31" height="91" fill="#1c2f3a"/>
 <rect x="1223" y="1420" width="5" height="40" fill="#d63a1e"/>
 <rect x="1538" y="1420" width="5" height="40" fill="#d63a1e"/>
 <rect x="1215" y="1526" width="30" height="75" fill="#d6d6d6"/>
 <rect x="1522" y="1526" width="40" height="75" fill="#d6d6d6"/>
 <rect x="1319" y="1487" width="129" height="126" fill="#f0f0f0"/>
 <rect x="1347" y="1489" width="71" height="39" fill="#a8c4a8"/>
 <rect x="1285" y="1487" width="15" height="113" fill="#888"/>
 <rect x="1460" y="1487" width="15" height="113" fill="#888"/>
 <rect x="1300" y="1530" width="19" height="40" fill="#9a9a9a"/>
 <rect x="1448" y="1530" width="19" height="40" fill="#9a9a9a"/>
 <rect x="1377" y="1548" width="15" height="17" fill="#e9a24c"/>
 <rect x="1327" y="1574" width="116" height="196" fill="#787878"/>
 <rect x="1345" y="1600" width="25" height="170" fill="#9a9a9a"/>
 <rect x="1400" y="1600" width="25" height="170" fill="#9a9a9a"/>
 <rect x="1370" y="1620" width="30" height="150" fill="#e8e8e8"/>
 <rect x="1243" y="1644" width="289" height="10" fill="#c8c8c8"/>
 <rect x="1271" y="1672" width="223" height="6" fill="#1c2f3a"/>
 <rect x="1324" y="1664" width="38" height="41" fill="#1c2f3a"/>
 <rect x="1410" y="1664" width="33" height="41" fill="#1c2f3a"/>
 <rect x="1324" y="1753" width="21" height="15" fill="#1c2f3a"/>
 <rect x="1433" y="1753" width="21" height="15" fill="#1c2f3a"/>
</g>

<!-- ===== Labels & arrows: top ===== -->
<text class="l" x="472" y="79.5">Arm for picking up elements</text>
<line class="ar" x1="546" y1="95" x2="537" y2="124"/>
<text class="l" x="745" y="103.5">Backwall to stop</text>
<text class="l" x="745" y="118">elements from falling out</text>
<line class="ar" x1="765" y1="132" x2="741" y2="150"/>
<text class="l" x="547" y="177.5">Large element holding</text>
<text class="l" x="547" y="192">container</text>
<line class="ar" x1="608" y1="193" x2="622" y2="218"/>
<text class="l" x="784" y="355.5">Camera</text>
<text class="l" x="784" y="370">holder in back</text>
<line class="ar" x1="775" y1="348" x2="748" y2="339"/>
<text class="l" x="784" y="413">Touch bumper</text>
<line class="ar" x1="780" y1="406" x2="753" y2="409"/>
<text class="l" x="420" y="598">Light sensor</text>
<line class="ar" x1="460" y1="585" x2="467" y2="556"/>
<text class="l" x="605" y="575">Large wheels to make it more</text>
<text class="l" x="605" y="589.5">all-terrain. Front wheels have no</text>
<text class="l" x="605" y="604">tires to make less friction on turns</text>
<line class="ar" x1="635" y1="553" x2="608" y2="541"/>
<line class="ar" x1="652" y1="558" x2="665" y2="533"/>

<!-- ===== Labels: middle left ===== -->
<text class="l" x="191" y="663">Backwall to stop</text>
<text class="l" x="191" y="677">elements from falling out</text>
<line class="ar" x1="296" y1="691" x2="321" y2="706"/>
<text class="l" x="11" y="741.5">Arm for picking up elements</text>
<line class="ar" x1="111" y1="757" x2="128" y2="781"/>
<text class="l" x="191" y="770">Large element holding</text>
<text class="l" x="191" y="784">container</text>
<line class="ar" x1="269" y1="786" x2="284" y2="811"/>
<text class="l" x="375" y="972.5">Camera</text>
<text class="l" x="375" y="987">holder in back</text>
<line class="ar" x1="382" y1="950" x2="367" y2="928"/>
<text class="l" x="405" y="1043.5">Touch bumper</text>
<line class="ar" x1="398" y1="1039" x2="368" y2="1045"/>
<text class="l" x="11" y="1189.5">Light sensor</text>
<line class="ar" x1="38" y1="1167" x2="48" y2="1142"/>
<text class="l" x="353.5" y="1182.5">Large wheels to make it more</text>
<text class="l" x="353.5" y="1197">all-terrain. Front wheels have no</text>
<text class="l" x="353.5" y="1211">tires to make less friction on turns</text>
<line class="ar" x1="383" y1="1157" x2="357" y2="1144"/>
<text class="l" x="578" y="1199">Wheel to stop the robot from</text>
<text class="l" x="578" y="1213">tipping over backwards on slopes</text>
<line class="ar" x1="694" y1="1178" x2="717" y2="1159"/>

<!-- ===== Labels: middle right ===== -->
<text class="l" x="1017" y="655.5">Backwall to stop</text>
<text class="l" x="1017" y="669.5">elements from falling out</text>
<line class="ar" x1="1038" y1="686" x2="1023" y2="712"/>
<text class="l" x="800" y="707.5">Arm for picking up elements</text>
<line class="ar" x1="900" y1="722" x2="918" y2="747"/>
<text class="l" x="800" y="781.5">Large element holding</text>
<text class="l" x="800" y="795.5">container</text>
<line class="ar" x1="885" y1="797" x2="898" y2="823"/>
<text class="l" x="1159" y="911.5">Camera</text>
<text class="l" x="1159" y="925.5">holder in back</text>
<line class="ar" x1="1147" y1="915.5" x2="1117" y2="916"/>
<text class="l" x="809" y="1164.5">Light sensor</text>
<line class="ar" x1="837" y1="1141" x2="846" y2="1112"/>
<text class="l" x="1098" y="1181.5">Large wheels to make it more</text>
<text class="l" x="1098" y="1195.5">all-terrain. Front wheels have no</text>
<text class="l" x="1098" y="1210">tires to make less friction on turns</text>
<line class="ar" x1="1132" y1="1154" x2="1107" y2="1140"/>

<!-- ===== Labels: bottom left ===== -->
<text class="l" x="254" y="1373.5">Large element holding</text>
<text class="l" x="254" y="1388">container</text>
<text class="l" x="17" y="1391.5">Arm for picking up elements</text>
<line class="ar" x1="121" y1="1405" x2="139" y2="1428"/>
<line class="ar" x1="254" y1="1403" x2="238" y2="1426"/>
<text class="l" x="279" y="1426">Backwall to stop</text>
<text class="l" x="279" y="1440">elements from falling out</text>
<line class="ar" x1="287" y1="1462" x2="270" y2="1487"/>
<text class="l w" x="185" y="1623.5">Camera</text>
<text class="l w" x="185" y="1637.5">holder</text>
<text class="l" x="303" y="1683">Wheel to stop the robot from</text>
<text class="l" x="303" y="1698">tipping over backwards on slopes</text>
<line x1="295" y1="1709" x2="230" y2="1746" stroke="#fff" stroke-width="3" marker-end="url(#ahw)"/>
<text class="l" x="344" y="1778.5">Large wheels to make it more</text>
<text class="l" x="344" y="1793">all-terrain. Front wheels have no</text>
<text class="l" x="344" y="1807">tires to make less friction on turns</text>
<line class="ar" x1="355" y1="1755" x2="329" y2="1743"/>
<text class="l" x="245" y="1812.5">Touch bumper</text>
<line class="ar" x1="268" y1="1796" x2="253" y2="1776"/>

<!-- ===== Labels: bottom right ===== -->
<text class="l" x="818" y="1274.5">Backwall to stop</text>
<text class="l" x="818" y="1289">elements from falling out</text>
<line class="ar" x1="908" y1="1302" x2="933" y2="1318"/>
<text class="l" x="1067.5" y="1336.5">Touch bumper</text>
<line class="ar" x1="1096" y1="1343" x2="1070" y2="1356"/>
<text class="l w" x="933" y="1437">Camera holder</text>
<text class="l w" x="955" y="1523">Large element</text>
<text class="l w" x="955" y="1537.5">holding container</text>
<text class="l" x="948.5" y="1818.5">Arm for picking up elements</text>
<line class="ar" x1="1063" y1="1800" x2="1043" y2="1782"/>
</svg>
</body></html>
